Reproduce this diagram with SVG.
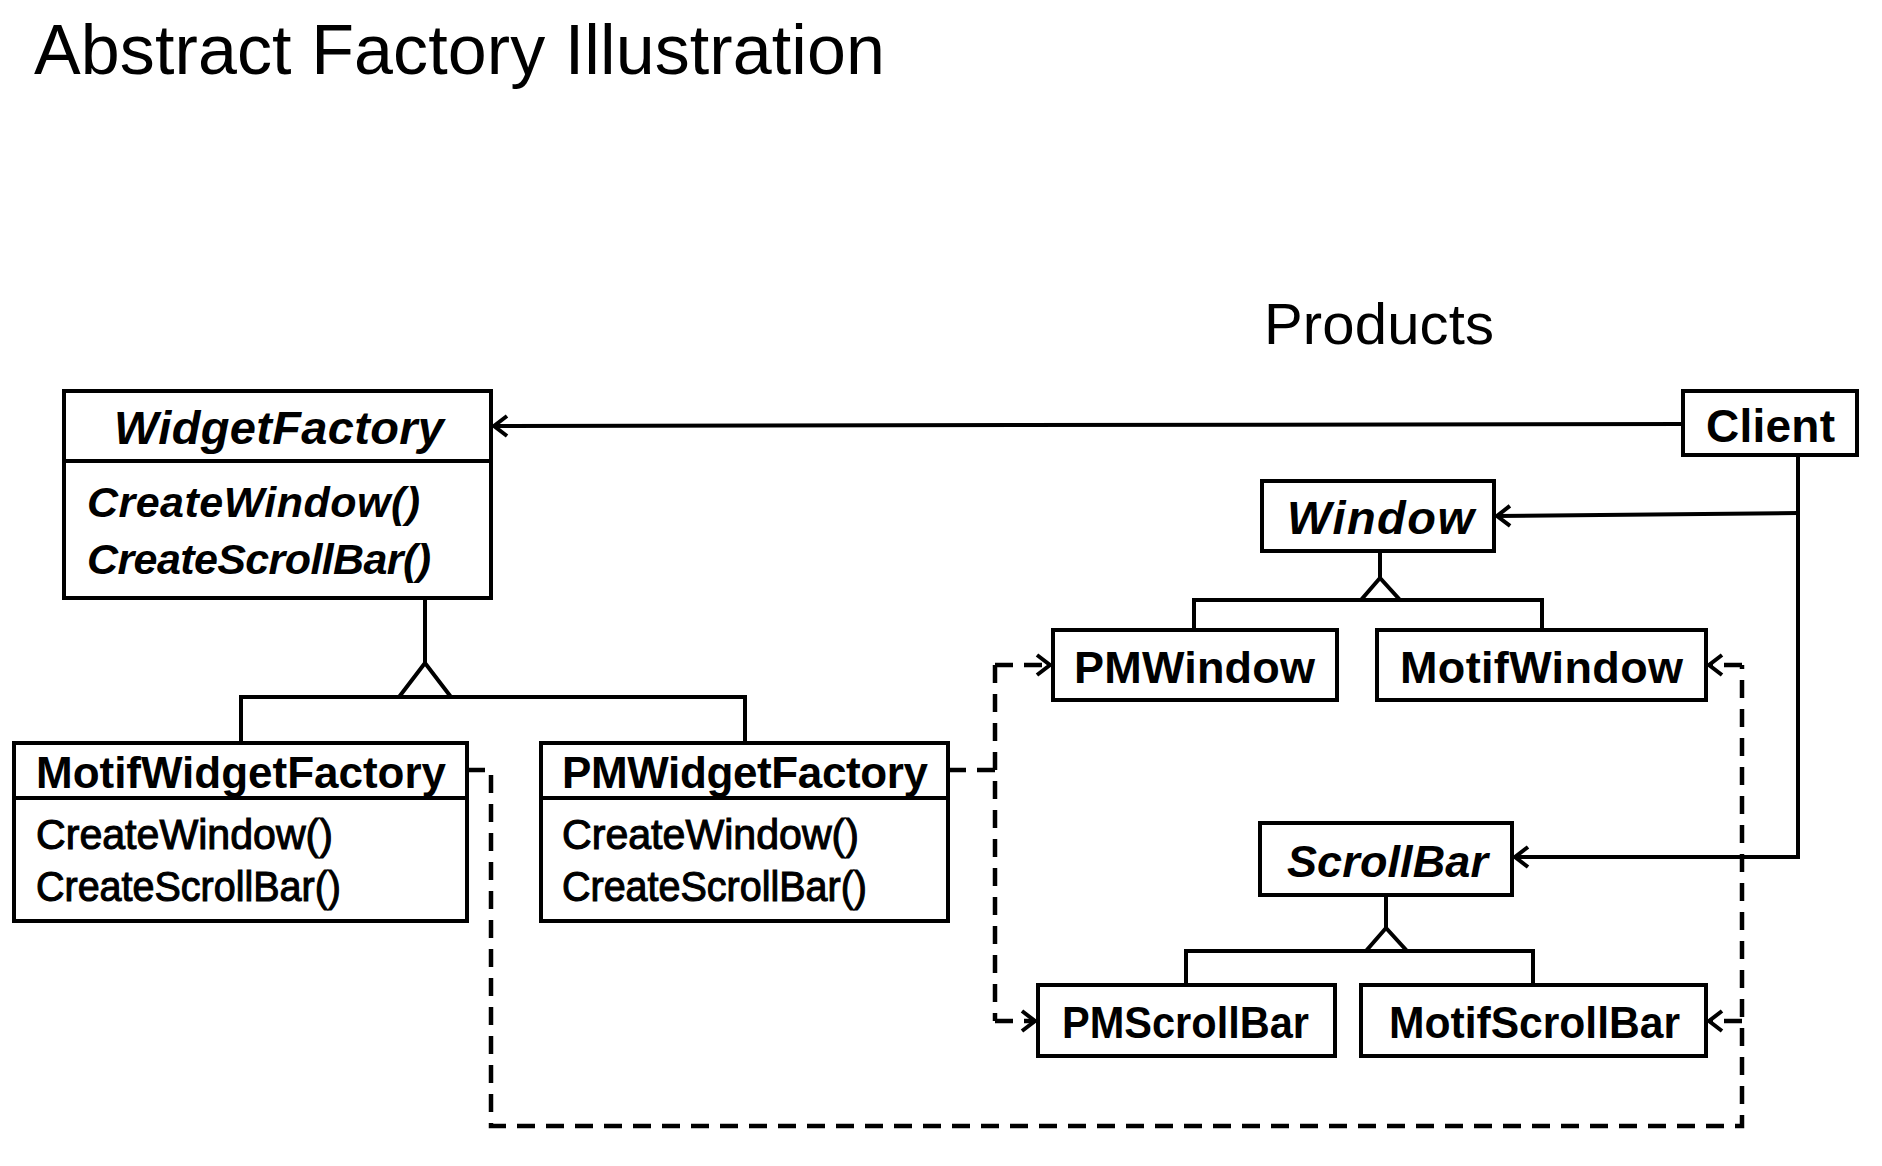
<svg xmlns="http://www.w3.org/2000/svg" width="1882" height="1166" viewBox="0 0 1882 1166">
<style>
  .box { fill: #fff; stroke: #000; stroke-width: 4; }
  .ln { fill: none; stroke: #000; stroke-width: 4; }
  .dash { fill: none; stroke: #000; stroke-width: 4.5; stroke-dasharray: 18 11; }
  .tri { fill: #fff; stroke: #000; stroke-width: 4; stroke-linejoin: miter; }
  text { font-family: "Liberation Sans", Arial, sans-serif; fill: #000; }
  .h { font-weight: bold; }
  .hi { font-weight: bold; font-style: italic; }
  .m { font-weight: normal; stroke: #000; stroke-width: 1.1; }
</style>
<defs>
  <marker id="arr" markerUnits="userSpaceOnUse" orient="auto" overflow="visible" refX="0" refY="0" markerWidth="1" markerHeight="1">
    <path d="M-13,-10 L0,0 L-13,10" fill="none" stroke="#000" stroke-width="4" stroke-dasharray="none"/>
  </marker>
</defs>
<rect width="1882" height="1166" fill="#fff"/>

<text x="34" y="74" font-size="70" textLength="851">Abstract Factory Illustration</text>
<text x="1264" y="344" font-size="58" textLength="230">Products</text>

<g id="connectors">
  <path class="ln" d="M1683,424 L494,426" marker-end="url(#arr)"/>
  <path class="ln" d="M1798,455 L1798,857 L1515,857" marker-end="url(#arr)"/>
  <path class="ln" d="M1798,513 L1497,516" marker-end="url(#arr)"/>
  <path class="ln" d="M425,598 L425,663"/>
  <path class="ln" d="M241,743 L241,697 L745,697 L745,743"/>
  <path class="tri" d="M425,663 L399,697 L451,697 Z"/>
  <path class="ln" d="M1380,551 L1380,578"/>
  <path class="ln" d="M1194,630 L1194,600 L1542,600 L1542,630"/>
  <path class="tri" d="M1380,578 L1361,600 L1400,600 Z"/>
  <path class="ln" d="M1386,895 L1386,928"/>
  <path class="ln" d="M1186,985 L1186,951 L1533,951 L1533,985"/>
  <path class="tri" d="M1386,928 L1366,951 L1407,951 Z"/>
  <path class="dash" d="M948,770 L995,770"/>
  <path class="dash" d="M995,665 L995,1021"/>
  <path class="dash" d="M995,665 L1050,665" marker-end="url(#arr)"/>
  <path class="dash" d="M995,1021 L1035,1021" marker-end="url(#arr)"/>
  <path class="dash" d="M467,770 L491,770 L491,1126 L1742,1126 L1742,665"/>
  <path class="dash" d="M1742,665 L1709,665" marker-end="url(#arr)"/>
  <path class="dash" d="M1742,1021 L1709,1021" marker-end="url(#arr)"/>
</g>

<g id="WidgetFactory">
  <rect class="box" x="64" y="391" width="427" height="207"/>
  <line class="ln" x1="64" y1="461" x2="491" y2="461"/>
  <text class="hi" x="114" y="444" font-size="47" textLength="330">WidgetFactory</text>
  <text class="hi" x="87" y="517" font-size="43" textLength="333">CreateWindow()</text>
  <text class="hi" x="87" y="574" font-size="43" textLength="344">CreateScrollBar()</text>
</g>

<g id="MotifWidgetFactory">
  <rect class="box" x="14" y="743" width="453" height="178"/>
  <line class="ln" x1="14" y1="798" x2="467" y2="798"/>
  <text class="h" x="36" y="788" font-size="44" textLength="410">MotifWidgetFactory</text>
  <text class="m" x="36" y="849" font-size="42" textLength="297" lengthAdjust="spacingAndGlyphs">CreateWindow()</text>
  <text class="m" x="36" y="901" font-size="42" textLength="305" lengthAdjust="spacingAndGlyphs">CreateScrollBar()</text>
</g>

<g id="PMWidgetFactory">
  <rect class="box" x="541" y="743" width="407" height="178"/>
  <line class="ln" x1="541" y1="798" x2="948" y2="798"/>
  <text class="h" x="562" y="788" font-size="44" textLength="366">PMWidgetFactory</text>
  <text class="m" x="562" y="849" font-size="42" textLength="297" lengthAdjust="spacingAndGlyphs">CreateWindow()</text>
  <text class="m" x="562" y="901" font-size="42" textLength="305" lengthAdjust="spacingAndGlyphs">CreateScrollBar()</text>
</g>

<g id="Client">
  <rect class="box" x="1683" y="391" width="174" height="64"/>
  <text class="h" x="1706" y="442" font-size="46" textLength="129">Client</text>
</g>

<g id="Window">
  <rect class="box" x="1262" y="481" width="232" height="70"/>
  <text class="hi" x="1287" y="534" font-size="47" textLength="187">Window</text>
</g>

<g id="PMWindow">
  <rect class="box" x="1053" y="630" width="284" height="70"/>
  <text class="h" x="1074" y="683" font-size="45" textLength="241">PMWindow</text>
</g>

<g id="MotifWindow">
  <rect class="box" x="1377" y="630" width="329" height="70"/>
  <text class="h" x="1400" y="683" font-size="45" textLength="283">MotifWindow</text>
</g>

<g id="ScrollBar">
  <rect class="box" x="1260" y="823" width="252" height="72"/>
  <text class="hi" x="1287" y="877" font-size="45" textLength="201">ScrollBar</text>
</g>

<g id="PMScrollBar">
  <rect class="box" x="1038" y="985" width="297" height="71"/>
  <text class="h" x="1062" y="1038" font-size="45" textLength="247" lengthAdjust="spacingAndGlyphs">PMScrollBar</text>
</g>

<g id="MotifScrollBar">
  <rect class="box" x="1361" y="985" width="345" height="71"/>
  <text class="h" x="1389" y="1038" font-size="45" textLength="291" lengthAdjust="spacingAndGlyphs">MotifScrollBar</text>
</g>
</svg>
